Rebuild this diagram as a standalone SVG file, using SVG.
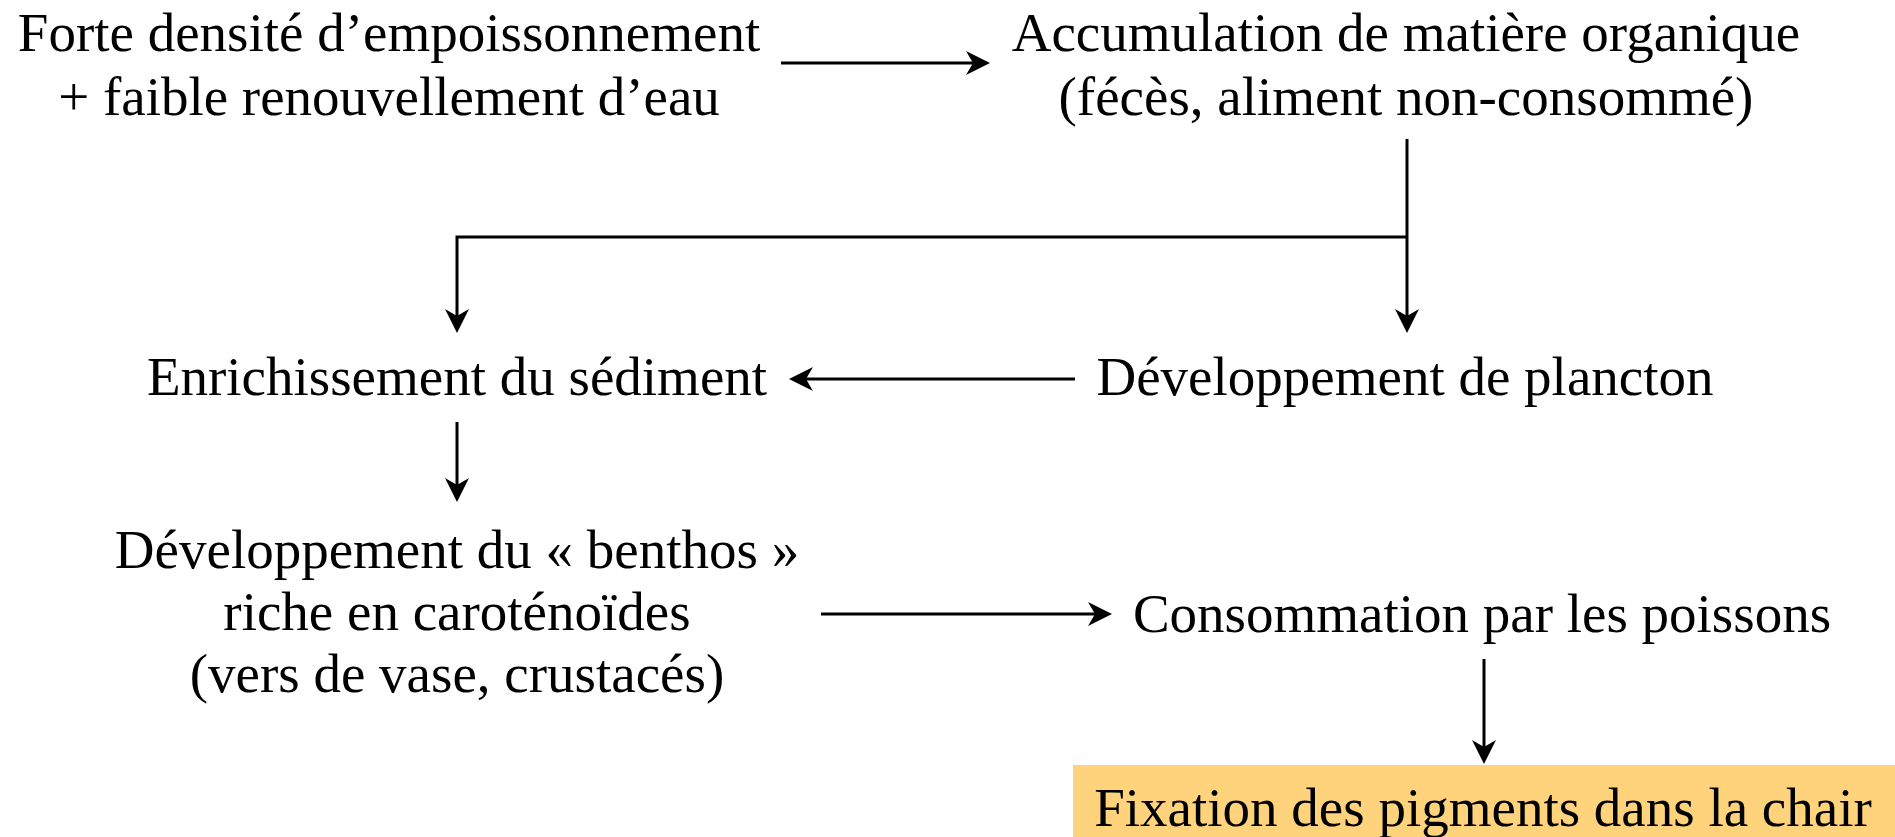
<svg xmlns="http://www.w3.org/2000/svg" width="1895" height="837" viewBox="0 0 1895 837">
<style>
text{font-family:"Liberation Serif","Times New Roman",serif;font-size:55px;fill:#000;text-anchor:middle}
.c{fill:none;stroke:#000;stroke-width:3}
</style>
<defs>
<marker id="ah" markerUnits="userSpaceOnUse" markerWidth="24" markerHeight="24" viewBox="0 0 24 24" refX="10" refY="12" orient="auto">
<path d="M0,0 L24,12 L0,24 L7,12 z" fill="#000"/>
</marker>
</defs>
<rect width="1895" height="837" fill="#fff"/>
<g id="n1"><text x="389" y="51">Forte densité d’empoissonnement</text><text x="389" y="115">+ faible renouvellement d’eau</text></g>
<g id="n2"><text x="1406" y="51">Accumulation de matière organique</text><text x="1406" y="115">(fécès, aliment non-consommé)</text></g>
<g id="n3"><text x="457" y="395">Enrichissement du sédiment</text></g>
<g id="n4"><text x="1405" y="395">Développement de plancton</text></g>
<g id="n5"><text x="457" y="568">Développement du « benthos »</text><text x="457" y="630">riche en caroténoïdes</text><text x="457" y="692">(vers de vase, crustacés)</text></g>
<g id="n6"><text x="1482" y="632">Consommation par les poissons</text></g>
<g id="n7"><rect x="1073" y="765" width="822" height="72" fill="#FED37B"/><text x="1483" y="826">Fixation des pigments dans la chair</text></g>
<g id="connectors">
<path class="c" d="M781,63 H976" marker-end="url(#ah)"/>
<path class="c" d="M1407,139 V319" marker-end="url(#ah)"/>
<path class="c" d="M1407,237 H457 V319" marker-end="url(#ah)"/>
<path class="c" d="M1075,379 H803" marker-end="url(#ah)"/>
<path class="c" d="M457,422 V488" marker-end="url(#ah)"/>
<path class="c" d="M821,614 H1098" marker-end="url(#ah)"/>
<path class="c" d="M1484,659 V750" marker-end="url(#ah)"/>
</g>
</svg>
